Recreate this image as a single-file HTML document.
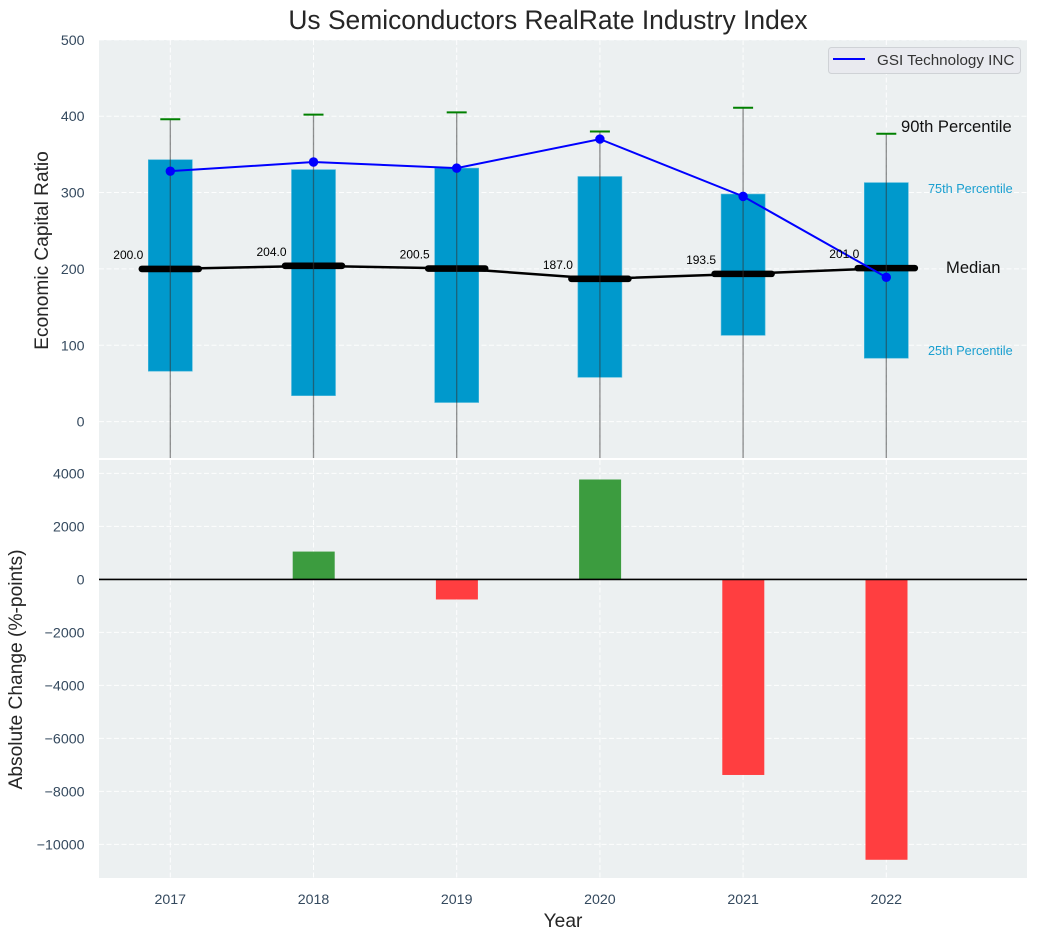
<!DOCTYPE html>
<html>
<head>
<meta charset="utf-8">
<title>Us Semiconductors RealRate Industry Index</title>
<style>
html,body{margin:0;padding:0;background:#fff;width:1038px;height:940px;overflow:hidden}
svg{display:block;font-family:"Liberation Sans",Arial,sans-serif}
</style>
</head>
<body>
<svg id="chart" xmlns="http://www.w3.org/2000/svg" width="1038" height="940" viewBox="0 0 1038 940">
  <defs>
    <clipPath id="clip-top"><rect x="99" y="40" width="928" height="418"/></clipPath>
    <clipPath id="clip-bottom"><rect x="99" y="460" width="928" height="418"/></clipPath>
  </defs>
  <rect x="99" y="40" width="928" height="418" fill="#ecf0f1"/>
  <rect x="99" y="460" width="928" height="418" fill="#ecf0f1"/>
  <g id="top-grid"></g>
  <g id="bottom-grid"></g>
  <g id="top-marks" clip-path="url(#clip-top)"></g>
  <g id="bottom-marks" clip-path="url(#clip-bottom)"></g>
  <g id="axis-labels"></g>
  <text x="548" y="29" text-anchor="middle" font-size="26.4" fill="#262626">Us Semiconductors RealRate Industry Index</text>
  <text transform="translate(48,250.5) rotate(-90)" text-anchor="middle" font-size="19.1" fill="#262626">Economic Capital Ratio</text>
  <text transform="translate(22,669.5) rotate(-90)" text-anchor="middle" font-size="19.2" fill="#262626">Absolute Change (%-points)</text>
  <text x="563" y="927" text-anchor="middle" font-size="19.2" fill="#262626">Year</text>
  <text x="901" y="132" font-size="16.6" fill="#111">90th Percentile</text>
  <text x="928" y="193" font-size="12.7" fill="#1a9fd0">75th Percentile</text>
  <text x="946" y="273" font-size="16.6" fill="#111">Median</text>
  <text x="928" y="355" font-size="12.7" fill="#1a9fd0">25th Percentile</text>
  <g>
    <rect x="828.5" y="47.5" width="192" height="26" rx="3" fill="#e9eaef" stroke="#cfd2d6" stroke-width="1"/>
    <line x1="833" y1="59" x2="865" y2="59" stroke="#0000ff" stroke-width="2"/>
    <text x="877" y="65" font-size="15.2" fill="#333">GSI Technology INC</text>
  </g>
</svg>
<script>
const years = [2017, 2018, 2019, 2020, 2021, 2022];
const p90 = [396, 402, 405, 380, 411, 377];
const p75 = [343, 330, 332, 321, 298, 313];
const medians = [200.0, 204.0, 200.5, 187.0, 193.5, 201.0];
const p25 = [66, 34, 25, 58, 113, 83];
const p10 = [-60, -60, -60, -60, -60, -60];
const company = [328, 340, 332, 370, 295, 189];
const changes = [0, 1050, -758, 3770, -7380, -10580];
const topTicks = [0, 100, 200, 300, 400, 500];
const bottomTicks = [-10000, -8000, -6000, -4000, -2000, 0, 2000, 4000];

const NS = 'http://www.w3.org/2000/svg';
const xScale = function (year) { return 170.3 + (year - 2017) * 143.2; };
const yTop = function (v) { return 421.6 - v * 0.7635; };
const yBottom = function (v) { return 579.4 - v * 0.0265; };

function mk(parent, tag, attrs, name) {
  const el = document.createElementNS(NS, tag);
  for (const k in attrs) el.setAttribute(k, attrs[k]);
  
  
  parent.appendChild(el);
  return el;
}

const topGrid = document.getElementById('top-grid');
const bottomGrid = document.getElementById('bottom-grid');
const topMarks = document.getElementById('top-marks');
const bottomMarks = document.getElementById('bottom-marks');
const labels = document.getElementById('axis-labels');
const gridStyle = { stroke: '#ffffff', 'stroke-width': 1, 'stroke-dasharray': '5 2.5', fill: 'none', opacity: 0.9 };

topTicks.forEach(function (t) {
  const y = yTop(t);
  mk(topGrid, 'line', Object.assign({ x1: 99, x2: 1027, y1: y, y2: y }, gridStyle), 'top-grid-line-y');
  const tx = mk(labels, 'text', { x: 84.5, y: y + 5, 'text-anchor': 'end', 'font-size': 14.2, fill: '#34495e' }, 'top-y-tick-label');
  tx.textContent = String(t);
});
bottomTicks.forEach(function (t) {
  const y = yBottom(t);
  mk(bottomGrid, 'line', Object.assign({ x1: 99, x2: 1027, y1: y, y2: y }, gridStyle), 'bottom-grid-line-y');
  const tx = mk(labels, 'text', { x: 84.5, y: y + 5, 'text-anchor': 'end', 'font-size': 14.2, fill: '#34495e' }, 'bottom-y-tick-label');
  tx.textContent = String(t).replace('-', '\u2212');
});
years.forEach(function (yr) {
  const x = xScale(yr);
  mk(topGrid, 'line', Object.assign({ x1: x, x2: x, y1: 40, y2: 458 }, gridStyle), 'top-grid-line-x');
  mk(bottomGrid, 'line', Object.assign({ x1: x, x2: x, y1: 460, y2: 878 }, gridStyle), 'bottom-grid-line-x');
  const tx = mk(labels, 'text', { x: x, y: 904, 'text-anchor': 'middle', 'font-size': 14.2, fill: '#34495e' }, 'x-tick-label');
  tx.textContent = String(yr);
});

/* boxes */
years.forEach(function (yr, i) {
  const x = xScale(yr);
  mk(topMarks, 'rect', {
    x: x - 22, y: yTop(p75[i]), width: 44, height: yTop(p25[i]) - yTop(p75[i]),
    fill: '#0099cc', stroke: '#4db8dc', 'stroke-width': 0.6
  }, 'percentile-box');
});
/* median connecting line */
mk(topMarks, 'polyline', {
  points: years.map(function (yr, i) { return xScale(yr) + ',' + yTop(medians[i]); }).join(' '),
  fill: 'none', stroke: '#000', 'stroke-width': 2.5
}, 'median-line');
/* median segments */
years.forEach(function (yr, i) {
  const x = xScale(yr);
  mk(topMarks, 'line', {
    x1: x - 28.5, x2: x + 28.5, y1: yTop(medians[i]), y2: yTop(medians[i]),
    stroke: '#000', 'stroke-width': 6.6, 'stroke-linecap': 'round'
  }, 'median-marker');
});
/* whiskers and caps */
years.forEach(function (yr, i) {
  const x = xScale(yr);
  mk(topMarks, 'line', {
    x1: x, x2: x, y1: yTop(p90[i]), y2: yTop(p10[i]),
    stroke: '#333', 'stroke-opacity': 0.55, 'stroke-width': 1.3
  }, 'whisker');
  mk(topMarks, 'line', {
    x1: x - 10, x2: x + 10, y1: yTop(p90[i]), y2: yTop(p90[i]),
    stroke: '#008000', 'stroke-width': 2
  }, 'p90-cap');
});
/* company line */
mk(topMarks, 'polyline', {
  points: years.map(function (yr, i) { return xScale(yr) + ',' + yTop(company[i]); }).join(' '),
  fill: 'none', stroke: '#0000ff', 'stroke-width': 2
}, 'company-line');
years.forEach(function (yr, i) {
  mk(topMarks, 'circle', { cx: xScale(yr), cy: yTop(company[i]), r: 4.7, fill: '#0000ff' }, 'company-point');
});
/* median value labels */
years.forEach(function (yr, i) {
  const tx = mk(topMarks, 'text', {
    x: xScale(yr) - 42, y: yTop(medians[i]) - 10, 'text-anchor': 'middle', 'font-size': 12, fill: '#000'
  }, 'median-value-label');
  tx.textContent = medians[i].toFixed(1);
});
/* change bars */
years.forEach(function (yr, i) {
  if (changes[i] === 0) return;
  const x = xScale(yr);
  const y0 = yBottom(0), y1 = yBottom(changes[i]);
  mk(bottomMarks, 'rect', {
    x: x - 20.8, y: Math.min(y0, y1), width: 42, height: Math.abs(y1 - y0),
    fill: changes[i] > 0 ? '#3c9c3f' : '#ff3e40'
  }, 'change-bar');
});
mk(bottomMarks, 'line', { x1: 99, x2: 1027, y1: yBottom(0), y2: yBottom(0), stroke: '#000', 'stroke-width': 1.6 }, 'zero-line');
</script>
</body>
</html>
